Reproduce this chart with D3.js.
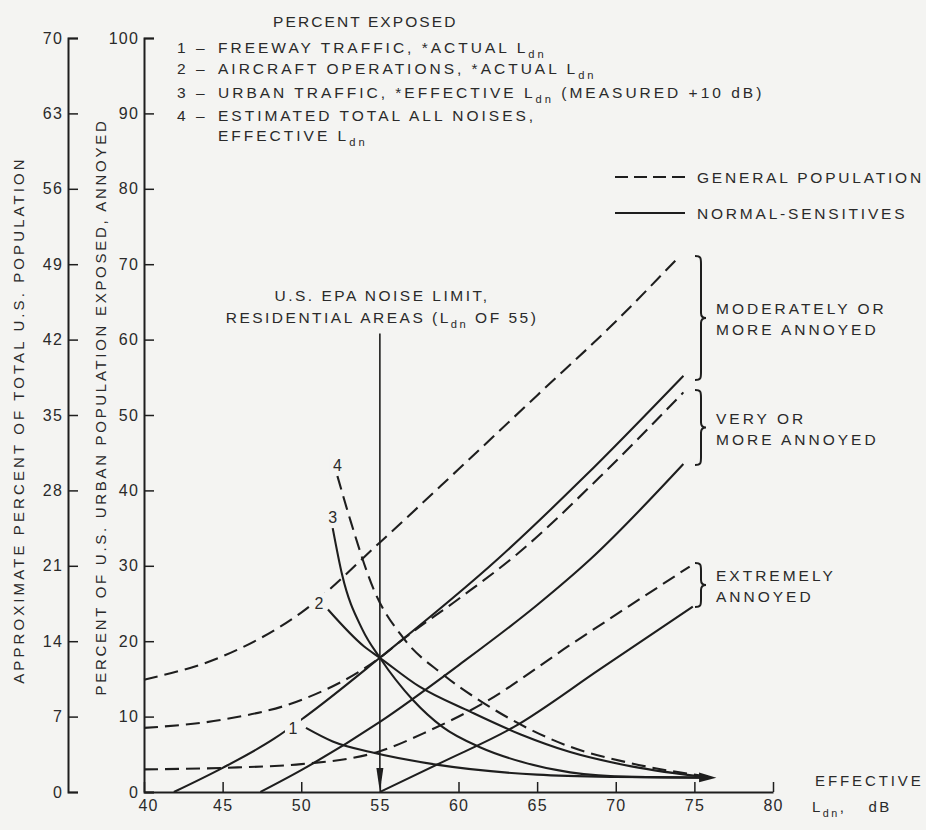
<!DOCTYPE html>
<html>
<head>
<meta charset="utf-8">
<script src="https://cdn.jsdelivr.net/npm/d3@7"></script>
<style>
  body { margin: 0; background: #f4f4f2; }
  svg { display: block; font-family: "Liberation Sans", Arial, sans-serif; }
  text { fill: #2a2a2a; }
</style>
</head>
<body>
<div id="chart"></div>
<script>
// annoyance curves, [Ldn, percent of urban population]
const gpModerate = [[40,14.9],[45,18.0],[50,23.8],[55,33.1],[60,42.8],[65,52.6],[70,62.4],[73.8,70.5]];
const nsModerate = [[41.9,0],[45,3.2],[48.3,7.1],[50.2,9.9],[55,17.8],[62.5,30.9],[68,41.8],[74.3,55.2]];
const gpVery = [[40,8.5],[45,9.6],[50,12.2],[55,17.8],[56.5,20.3],[60,25.6],[63.7,31.5],[69,41.8],[74.3,53.0]];
const nsVery = [[47.4,0],[50,2.9],[55,9.3],[60,16.8],[65,24.8],[68.4,30.9],[74.3,43.5]];
const gpExtreme = [[40,3.0],[45,3.2],[50,3.7],[55,5.4],[58,8.0],[61.6,11.8],[67.1,19.5],[74.7,29.9]];
const nsExtreme = [[55,0],[59,4.0],[63.5,8.6],[69,16.3],[74.9,24.6]];

// exposure curves
const freeway = [[50.3,8.5],[52,6.7],[54.4,5.3],[58.7,3.6],[65,2.3],[70,2.0],[76,1.9]];
const aircraft = [[51.7,24.2],[54,19.3],[55,17.8],[57.5,14.0],[60.8,10.6],[64,7.6],[67.1,5.3],[71,3.4],[76,1.9]];
const urban = [[52,35.0],[52.6,28.8],[53.9,21.5],[55,17.8],[57.1,12.2],[59,8.6],[61.4,5.9],[64,4.0],[67.1,2.6],[71,2.0],[76,1.9]];
const totalAll = [[52.3,41.9],[53.1,36.2],[54.6,26.9],[56.5,20.4],[59,15.6],[61.6,11.8],[67.1,6.0],[71,3.8],[76,2.0]];

// tick values
const xTicks = [40,45,50,55,60,65,70,75,80];
const urbanTicks = [0,10,20,30,40,50,60,70,80,90,100];
const totalTicks = [0,7,14,21,28,35,42,49,56,63,70];

const epaLimit = 55, epaTop = 60.8;

(function chart() {
    const width = 926, height = 830;
    const bg = "#f4f4f2", ink = "#1e1e1e";

    const svg = d3.select("#chart").append("svg")
        .attr("width", width).attr("height", height);

    svg.append("rect").attr("width", width).attr("height", height).attr("fill", bg);

    // scales
    const x = d3.scaleLinear().domain([40, 80]).range([144, 773]);
    const y = d3.scaleLinear().domain([0, 100]).range([792, 38]);
    const yTotal = d3.scaleLinear().domain([0, 70]).range([792, 38]);

    function styleAxis(g) {
        g.attr("font-family", null).attr("font-size", null);
        g.select(".domain").attr("stroke", ink).attr("stroke-width", 2);
        g.selectAll(".tick line").attr("stroke", ink).attr("stroke-width", 1.5);
        g.selectAll(".tick text").attr("font-size", 16).attr("letter-spacing", 1.2).attr("fill", "#2a2a2a");
    }

    // outer y axis (total US population)
    svg.append("g")
        .attr("transform", "translate(68,0)")
        .call(d3.axisLeft(yTotal).tickValues(totalTicks).tickSizeInner(-10).tickSizeOuter(-10).tickPadding(5))
        .call(styleAxis);

    // inner y axis (urban population)
    svg.append("g")
        .attr("transform", `translate(${x(40)},0)`)
        .call(d3.axisLeft(y).tickValues(urbanTicks).tickSizeInner(-10).tickSizeOuter(-10).tickPadding(5))
        .call(styleAxis);

    // x axis
    const xg = svg.append("g")
        .attr("transform", `translate(0,${y(0)})`)
        .call(d3.axisBottom(x).tickValues(xTicks).tickSizeInner(-10).tickSizeOuter(0).tickPadding(8))
        .call(styleAxis);
    xg.selectAll(".tick text").filter(d => d === 40).attr("dx", 4);

    // axis titles
    svg.append("text")
        .attr("transform", "translate(24,420) rotate(-90)")
        .attr("text-anchor", "middle")
        .attr("font-size", 15).attr("letter-spacing", 3.1)
        .text("APPROXIMATE PERCENT OF TOTAL U.S. POPULATION");
    svg.append("text")
        .attr("transform", "translate(106,407) rotate(-90)")
        .attr("text-anchor", "middle")
        .attr("font-size", 15).attr("letter-spacing", 2.7)
        .text("PERCENT OF U.S. URBAN POPULATION EXPOSED, ANNOYED");

    // helper for text with L subscript dn
    function ldnText(sel, before, after) {
        sel.append("tspan").text(before + "L");
        sel.append("tspan").attr("font-size", "0.72em").attr("dy", 5).text("dn");
        if (after) sel.append("tspan").attr("dy", -5).text(after);
        return sel;
    }

    // x axis title
    svg.append("text").attr("x", 815).attr("y", 786)
        .attr("font-size", 15).attr("letter-spacing", 2.9).text("EFFECTIVE");
    const xt = svg.append("text").attr("x", 812).attr("y", 812)
        .attr("font-size", 15).attr("letter-spacing", 2.5);
    ldnText(xt, "", ",");
    xt.append("tspan").attr("dx", 22).text("dB");

    // exposure legend at top
    const leg = svg.append("g").attr("font-size", 15.5).attr("letter-spacing", 3);
    leg.append("text").attr("x", 273).attr("y", 27).attr("letter-spacing", 2.1).text("PERCENT EXPOSED");
    const legRows = [
        ["1", 52.5, "FREEWAY TRAFFIC, *ACTUAL ", ""],
        ["2", 73.5, "AIRCRAFT OPERATIONS, *ACTUAL ", ""],
        ["3", 97.5, "URBAN TRAFFIC, *EFFECTIVE ", " (MEASURED +10 dB)"],
        ["4", 120.5, "ESTIMATED TOTAL ALL NOISES,", null]
    ];
    legRows.forEach(r => {
        leg.append("text").attr("x", 177).attr("y", r[1]).text(r[0]);
        leg.append("text").attr("x", 196).attr("y", r[1]).text("–");
        const t = leg.append("text").attr("x", 218).attr("y", r[1]);
        if (r[3] === null) t.text(r[2]);
        else ldnText(t, r[2], r[3]);
    });
    ldnText(leg.append("text").attr("x", 218).attr("y", 140.5), "EFFECTIVE ", "");

    // population legend
    const leg2 = svg.append("g").attr("font-size", 15.5).attr("letter-spacing", 2.8);
    leg2.append("line").attr("x1", 615).attr("x2", 690).attr("y1", 177).attr("y2", 177)
        .attr("stroke", ink).attr("stroke-width", 2.2).attr("stroke-dasharray", "13,6");
    leg2.append("text").attr("x", 697).attr("y", 182.5).text("GENERAL POPULATION");
    leg2.append("line").attr("x1", 615).attr("x2", 685).attr("y1", 213).attr("y2", 213)
        .attr("stroke", ink).attr("stroke-width", 2.2);
    leg2.append("text").attr("x", 697).attr("y", 218.5).text("NORMAL-SENSITIVES");

    // EPA limit
    svg.append("text").attr("x", 382).attr("y", 301).attr("text-anchor", "middle")
        .attr("font-size", 15.5).attr("letter-spacing", 2.5).text("U.S. EPA NOISE LIMIT,");
    ldnText(svg.append("text").attr("x", 382).attr("y", 323).attr("text-anchor", "middle")
        .attr("font-size", 15.5).attr("letter-spacing", 2.5), "RESIDENTIAL AREAS (", " OF 55)");
    svg.append("line")
        .attr("x1", x(epaLimit)).attr("x2", x(epaLimit))
        .attr("y1", y(epaTop)).attr("y2", y(0) - 18)
        .attr("stroke", ink).attr("stroke-width", 1.6);
    svg.append("path")
        .attr("d", `M${x(epaLimit) - 3.5},${y(0) - 24}L${x(epaLimit) + 3.5},${y(0) - 24}L${x(epaLimit)},${y(0)}Z`)
        .attr("fill", ink);

    // curves
    const line = d3.line()
        .x(d => x(d[0]))
        .y(d => y(d[1]))
        .curve(d3.curveMonotoneX);

    const curves = [
        [gpModerate, true], [nsModerate, false],
        [gpVery, true], [nsVery, false],
        [gpExtreme, true], [nsExtreme, false],
        [freeway, false], [aircraft, false], [urban, false], [totalAll, true]
    ];
    svg.append("g").selectAll("path")
        .data(curves)
        .join("path")
        .attr("d", d => line(d[0]))
        .attr("fill", "none")
        .attr("stroke", ink)
        .attr("stroke-width", 2.1)
        .attr("stroke-dasharray", d => d[1] ? "14,7" : null);

    // converging end blob
    svg.append("path")
        .attr("d", `M${x(75.3)},${y(2.6)}L${x(76.4)},${y(1.9)}L${x(75.3)},${y(1.3)}Z`)
        .attr("fill", ink);

    // curve number labels near curve starts
    const labels = [["1", freeway, -13, 0], ["2", aircraft, -9, -7], ["3", urban, 0, -11], ["4", totalAll, 0, -11]];
    const lg = svg.append("g").attr("font-size", 16);
    labels.forEach(l => {
        const cx = x(l[1][0][0]) + l[2], cy = y(l[1][0][1]) + l[3];
        lg.append("rect").attr("x", cx - 8).attr("y", cy - 10).attr("width", 16).attr("height", 20).attr("fill", bg);
        lg.append("text").attr("x", cx).attr("y", cy + 6).attr("text-anchor", "middle").text(l[0]);
    });

    // braces
    function brace(x0, top, bottom) {
        const mid = (top + bottom) / 2;
        return `M${x0 - 6},${top} C${x0},${top} ${x0},${top + 2} ${x0},${top + 8} V${mid - 5} C${x0},${mid - 1} ${x0 + 2},${mid} ${x0 + 5},${mid}`
            + ` C${x0 + 2},${mid} ${x0},${mid + 1} ${x0},${mid + 5} V${bottom - 8} C${x0},${bottom - 2} ${x0},${bottom} ${x0 - 6},${bottom}`;
    }
    const braces = [[256, 380, ["MODERATELY OR", "MORE ANNOYED"]], [390, 465, ["VERY OR", "MORE ANNOYED"]], [563, 607, ["EXTREMELY", "ANNOYED"]]];
    braces.forEach(b => {
        svg.append("path").attr("d", brace(701, b[0], b[1]))
            .attr("fill", "none").attr("stroke", ink).attr("stroke-width", 2);
        const mid = (b[0] + b[1]) / 2;
        b[2].forEach((s, i) => {
            svg.append("text").attr("x", 716).attr("y", mid - 4 + i * 21)
                .attr("font-size", 15.5).attr("letter-spacing", 3).text(s);
        });
    });
})();
</script>
</body>
</html>
